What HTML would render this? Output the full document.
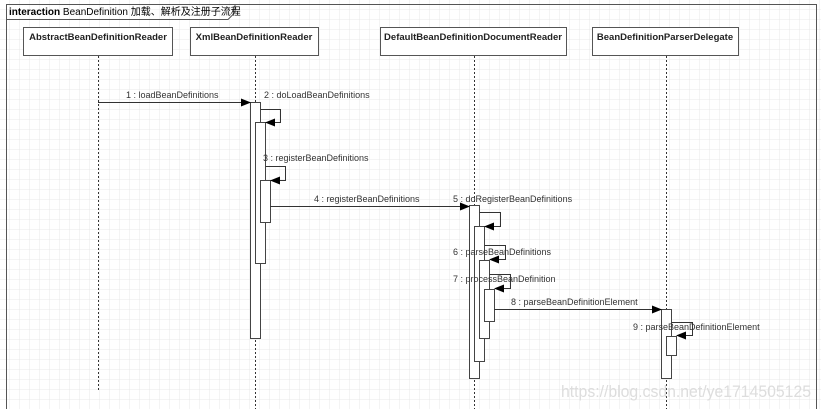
<!DOCTYPE html>
<html><head><style>
body{margin:0;width:821px;height:409px;overflow:hidden;background:#fff;font-family:"Liberation Sans","Noto Sans CJK SC",sans-serif}
</style></head><body>
<svg width="821" height="409" xmlns="http://www.w3.org/2000/svg">
<defs>
<pattern id="g" width="10" height="10" patternUnits="userSpaceOnUse"><path d="M10 0V10H0" fill="none" stroke="#e8e8e8" stroke-width="1"/></pattern>
<marker id="a" markerWidth="10" markerHeight="8" refX="9" refY="4" orient="auto" markerUnits="userSpaceOnUse"><path d="M0 0L10 4L0 8Z" fill="#000"/></marker>
</defs>
<rect width="821" height="409" fill="url(#g)"/>
<g fill="none" stroke="#555">
<path d="M6.5 409V4.5H816.5V409"/>
<path d="M6.5 19.5H228l7-7V4.5"/>
</g>
<text x="9" y="15" font-size="10" fill="#000"><tspan font-weight="bold">interaction</tspan> BeanDefinition 加载、解析及注册子流程</text>
<g fill="#fff" stroke="#555">
<rect x="23.5" y="27.5" width="149" height="28"/>
<rect x="190.5" y="27.5" width="128" height="28"/>
<rect x="380.5" y="27.5" width="186" height="28"/>
<rect x="592.5" y="27.5" width="146" height="28"/>
</g>
<g font-size="9.5" font-weight="bold" text-anchor="middle" fill="#222">
<text x="98" y="40">AbstractBeanDefinitionReader</text>
<text x="254" y="40">XmlBeanDefinitionReader</text>
<text x="473" y="40">DefaultBeanDefinitionDocumentReader</text>
<text x="665" y="40">BeanDefinitionParserDelegate</text>
</g>
<g stroke="#333" stroke-dasharray="2,2">
<path d="M98.5 56V390M255.5 56V409M474.5 56V409M666.5 56V409"/>
</g>
<g fill="#fff" stroke="#444">
<rect x="250.5" y="102.5" width="10" height="236"/>
<rect x="255.5" y="122.5" width="10" height="141"/>
<rect x="260.5" y="180.5" width="10" height="42"/>
<rect x="469.5" y="205.5" width="10" height="173"/>
<rect x="474.5" y="226.5" width="10" height="135"/>
<rect x="479.5" y="260.5" width="10" height="78"/>
<rect x="484.5" y="289.5" width="10" height="32"/>
<rect x="661.5" y="309.5" width="10" height="69"/>
<rect x="666.5" y="336.5" width="10" height="19"/>
</g>
<g stroke="#333" fill="none" marker-end="url(#a)">
<path d="M98 102.5H250"/>
<path d="M260.5 109.5H280.5V122.5H266"/>
<path d="M265.5 166.5H285.5V180.5H271"/>
<path d="M270 206.5H469"/>
<path d="M479.5 212.5H500.5V226.5H485"/>
<path d="M484.5 245.5H505.5V259.5H490"/>
<path d="M489.5 274.5H510.5V288.5H495"/>
<path d="M494 309.5H661"/>
<path d="M671.5 322.5H692.5V335.5H677"/>
</g>
<g font-size="9" fill="#333">
<text x="126" y="98">1 : loadBeanDefinitions</text>
<text x="264" y="98">2 : doLoadBeanDefinitions</text>
<text x="263" y="161">3 : registerBeanDefinitions</text>
<text x="314" y="202">4 : registerBeanDefinitions</text>
<text x="453" y="202">5 : doRegisterBeanDefinitions</text>
<text x="453" y="255">6 : parseBeanDefinitions</text>
<text x="453" y="282">7 : processBeanDefinition</text>
<text x="511" y="305">8 : parseBeanDefinitionElement</text>
<text x="633" y="330">9 : parseBeanDefinitionElement</text>
</g>
<text x="561" y="397" font-size="17" fill="#ddd" textLength="250" lengthAdjust="spacingAndGlyphs">https://blog.csdn.net/ye1714505125</text>
</svg>
</body></html>
